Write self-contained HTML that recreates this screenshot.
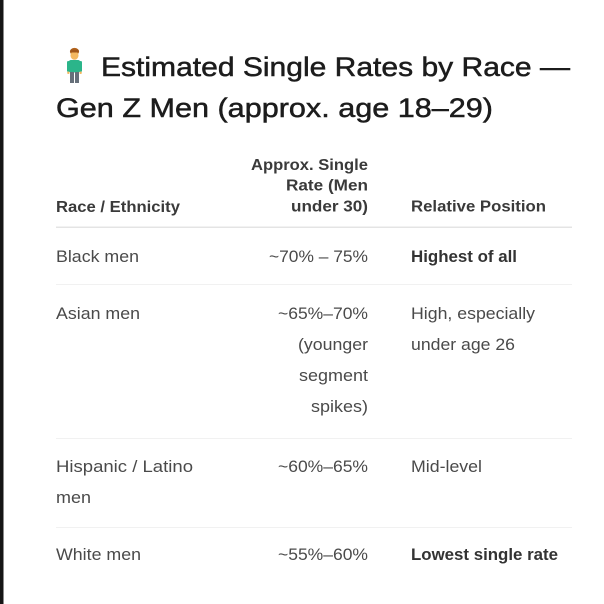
<!DOCTYPE html>
<html>
<head>
<meta charset="utf-8">
<style>
  html, body { margin: 0; padding: 0; background: #ffffff; }
  body { width: 604px; height: 604px; overflow: hidden; position: relative; }
  svg { display: block; }
  .t { font-family: "Liberation Sans", Arial, sans-serif; }
  .title { font-size: 27px; fill: #1c1c1c; stroke: #1c1c1c; stroke-width: 0.5px; }
  .hd { font-size: 16px; font-weight: bold; fill: #3a3a3a; }
  .bd { font-size: 17px; fill: #4a4a4a; }
  .bb { font-size: 17px; font-weight: bold; fill: #333333; }
</style>
</head>
<body>
<svg width="604" height="604" viewBox="0 0 604 604" xmlns="http://www.w3.org/2000/svg">
  <rect x="0" y="0" width="604" height="604" fill="#ffffff"/>
  <rect x="0" y="0" width="3.5" height="604" fill="#151515"/>

  <!-- emoji: standing man -->
  <g>
    <ellipse cx="74.5" cy="51.5" rx="4.6" ry="3.6" fill="#b5651d"/>
    <ellipse cx="74.5" cy="55.5" rx="4" ry="4.3" fill="#f4b860"/>
    <rect x="70.2" y="49.5" width="8.6" height="3" rx="1.5" fill="#a0561a"/>
    <rect x="68.5" y="60" width="12" height="12.5" rx="2.5" fill="#2bb58a"/>
    <rect x="67" y="61" width="2.6" height="11" rx="1.2" fill="#2bb58a"/>
    <rect x="79.4" y="61" width="2.6" height="11" rx="1.2" fill="#2bb58a"/>
    <rect x="67.2" y="71.5" width="2.3" height="2.5" rx="1" fill="#f4b860"/>
    <rect x="79.5" y="71.5" width="2.3" height="2.5" rx="1" fill="#f4b860"/>
    <rect x="70" y="72" width="4" height="11" fill="#66707a"/>
    <rect x="75" y="72" width="4" height="11" fill="#66707a"/>
  </g>

  <!-- title -->
  <text class="t title" x="101" y="76" textLength="469" lengthAdjust="spacingAndGlyphs">Estimated Single Rates by Race —</text>
  <text class="t title" x="56" y="117" textLength="437" lengthAdjust="spacingAndGlyphs">Gen Z Men (approx. age 18–29)</text>

  <!-- header -->
  <text class="t hd" x="56" y="212" textLength="124" lengthAdjust="spacingAndGlyphs">Race / Ethnicity</text>
  <text class="t hd" x="251" y="170" textLength="117" lengthAdjust="spacingAndGlyphs">Approx. Single</text>
  <text class="t hd" x="286" y="190.5" textLength="82" lengthAdjust="spacingAndGlyphs">Rate (Men</text>
  <text class="t hd" x="291" y="211.5" textLength="77" lengthAdjust="spacingAndGlyphs">under 30)</text>
  <text class="t hd" x="411" y="211.5" textLength="135" lengthAdjust="spacingAndGlyphs">Relative Position</text>
  <rect x="56" y="226.5" width="516" height="1.5" fill="#e4e4e4"/>

  <!-- row 1 -->
  <text class="t bd" x="56" y="262" textLength="83" lengthAdjust="spacingAndGlyphs">Black men</text>
  <text class="t bd" x="269" y="262" textLength="99" lengthAdjust="spacingAndGlyphs">~70% – 75%</text>
  <text class="t bb" x="411" y="262" textLength="106" lengthAdjust="spacingAndGlyphs">Highest of all</text>
  <rect x="56" y="284" width="516" height="1" fill="#f1f1f1"/>

  <!-- row 2 -->
  <text class="t bd" x="56" y="319" textLength="84" lengthAdjust="spacingAndGlyphs">Asian men</text>
  <text class="t bd" x="278" y="319" textLength="90" lengthAdjust="spacingAndGlyphs">~65%–70%</text>
  <text class="t bd" x="298" y="350" textLength="70" lengthAdjust="spacingAndGlyphs">(younger</text>
  <text class="t bd" x="299" y="381" textLength="69" lengthAdjust="spacingAndGlyphs">segment</text>
  <text class="t bd" x="311" y="412" textLength="57" lengthAdjust="spacingAndGlyphs">spikes)</text>
  <text class="t bd" x="411" y="319" textLength="124" lengthAdjust="spacingAndGlyphs">High, especially</text>
  <text class="t bd" x="411" y="350" textLength="104" lengthAdjust="spacingAndGlyphs">under age 26</text>
  <rect x="56" y="438" width="516" height="1" fill="#f1f1f1"/>

  <!-- row 3 -->
  <text class="t bd" x="56" y="472" textLength="137" lengthAdjust="spacingAndGlyphs">Hispanic / Latino</text>
  <text class="t bd" x="56" y="503" textLength="35" lengthAdjust="spacingAndGlyphs">men</text>
  <text class="t bd" x="278" y="472" textLength="90" lengthAdjust="spacingAndGlyphs">~60%–65%</text>
  <text class="t bd" x="411" y="472" textLength="71" lengthAdjust="spacingAndGlyphs">Mid-level</text>
  <rect x="56" y="527" width="516" height="1" fill="#f1f1f1"/>

  <!-- row 4 -->
  <text class="t bd" x="56" y="560" textLength="85" lengthAdjust="spacingAndGlyphs">White men</text>
  <text class="t bd" x="278" y="560" textLength="90" lengthAdjust="spacingAndGlyphs">~55%–60%</text>
  <text class="t bb" x="411" y="560" textLength="147" lengthAdjust="spacingAndGlyphs">Lowest single rate</text>
</svg>
</body>
</html>
